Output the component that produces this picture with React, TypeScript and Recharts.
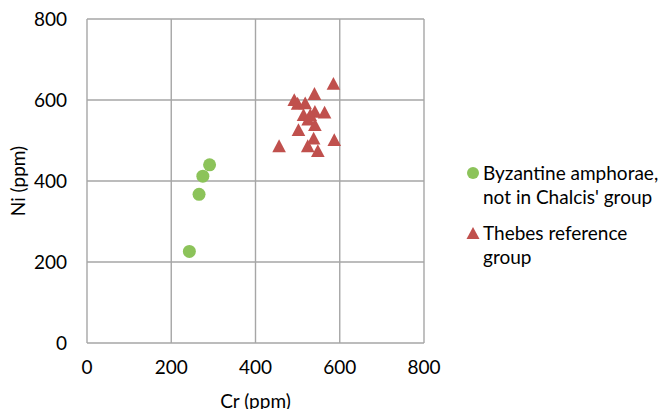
import React from "react";
import {
  ScatterChart,
  Scatter,
  XAxis,
  YAxis,
  CartesianGrid,
} from "recharts";

// Cr / Ni (ppm) values
const byzCr = [291, 275, 266, 243];
const byzNi = [440, 412, 367, 226];

const thebesCr = [585, 540, 492, 500, 518, 514, 541, 564, 530, 525, 502, 541, 538, 524, 456, 587, 548];
const thebesNi = [641, 616, 601, 592, 593, 564, 572, 570, 564, 553, 527, 539, 506, 487, 487, 502, 475];

const ticks = [0, 200, 400, 600, 800];

const seriesNames = ["Byzantine amphorae, not in Chalcis' group", "Thebes reference group"];
const legendLines = [
  ["Byzantine amphorae,", "not in Chalcis' group"],
  ["Thebes reference", "group"],
];

const GREEN = "#8cc35a";
const RED = "#c0504d";
const GRID = "#a6a6a6";
const FONT = "Lato, 'Open Sans', sans-serif";

const byzData = byzCr.map((cr, i) => ({ cr, ni: byzNi[i] }));
const thebesData = thebesCr.map((cr, i) => ({ cr, ni: thebesNi[i] }));

const Circle = (props: any) => {
  const { cx, cy } = props;
  return <circle cx={cx} cy={cy} r={6.5} fill={GREEN} />;
};

const Triangle = (props: any) => {
  const { cx, cy } = props;
  const w = 6.8;
  const h = 6.4;
  return (
    <polygon
      points={`${cx},${cy - h} ${cx + w},${cy + h} ${cx - w},${cy + h}`}
      fill={RED}
    />
  );
};

// legend sits in the empty space right of the plot, like the original
const ChartLegend = () => (
  <div
    style={{
      position: "absolute",
      left: 465,
      top: 161,
      width: 203,
      fontFamily: FONT,
      fontSize: 19,
      color: "#000",
    }}
  >
    {legendLines.map((lines, i) => (
      <div key={i} title={seriesNames[i]} style={{ display: "flex", marginBottom: i === 0 ? 12 : 0 }}>
        <svg width={16} height={24} style={{ flexShrink: 0, marginRight: 2 }}>
          {i === 0 ? (
            <circle cx={8} cy={12} r={6} fill={GREEN} />
          ) : (
            <polygon points="8,6 14.5,18 1.5,18" fill={RED} />
          )}
        </svg>
        <div style={{ lineHeight: "24px" }}>
          {lines.map((l) => (
            <div key={l}>{l}</div>
          ))}
        </div>
      </div>
    ))}
  </div>
);

export default function App() {
  return (
    <div style={{ position: "absolute", left: 0, top: 0, width: 668, height: 409, background: "#fff" }}>
      <ScatterChart
        width={668}
        height={409}
        margin={{ top: 19, right: 244, bottom: 0, left: 0 }}
      >
        <CartesianGrid stroke={GRID} strokeWidth={1.4} />
        <XAxis
          type="number"
          dataKey="cr"
          domain={[0, 800]}
          ticks={ticks}
          axisLine={false}
          tickLine={false}
          tickMargin={12}
          height={66}
          tick={{ fill: "#000", fontSize: 19, fontFamily: FONT }}
          label={{
            value: "Cr (ppm)",
            position: "insideBottom",
            offset: 0,
            dy: -1,
            style: { fill: "#000", fontSize: 19, fontFamily: FONT },
          }}
        />
        <YAxis
          type="number"
          dataKey="ni"
          domain={[0, 800]}
          ticks={ticks}
          axisLine={false}
          tickLine={false}
          tickMargin={14}
          width={87}
          tick={{ fill: "#000", fontSize: 19, fontFamily: FONT }}
          label={{
            value: "Ni (ppm)",
            angle: -90,
            position: "insideLeft",
            offset: 18,
            style: { fill: "#000", fontSize: 19, fontFamily: FONT, textAnchor: "middle" },
          }}
        />
        <Scatter
          name={seriesNames[0]}
          data={byzData}
          fill={GREEN}
          shape={<Circle />}
          isAnimationActive={false}
        />
        <Scatter
          name={seriesNames[1]}
          data={thebesData}
          fill={RED}
          shape={<Triangle />}
          isAnimationActive={false}
        />
      </ScatterChart>
      <ChartLegend />
    </div>
  );
}
